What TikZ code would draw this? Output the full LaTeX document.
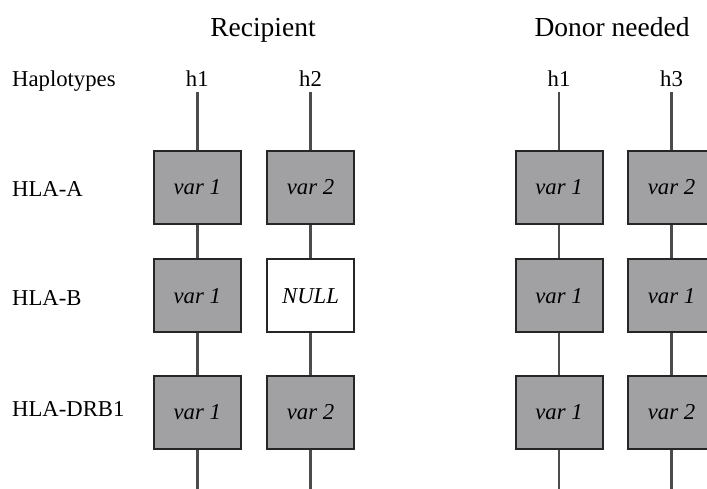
\documentclass[tikz,border=0pt]{standalone}
\usepackage{fontspec}
\setmainfont{Liberation Serif}
\definecolor{allelefill}{RGB}{161,161,164}
\begin{document}
\begin{tikzpicture}[x=1pt,y=-1pt,
  title/.style={font=\fontsize{27.5}{32}\selectfont, anchor=base, inner sep=0pt},
  lbl/.style={font=\fontsize{22.7}{27}\selectfont, anchor=base west, inner sep=0pt},
  hap/.style={font=\fontsize{22.7}{27}\selectfont, anchor=base, inner sep=0pt},
  allele/.style={draw=black!85, line width=2pt, fill=allelefill, minimum width=87pt, minimum height=73pt, inner sep=0pt, font=\fontsize{22.7}{27}\selectfont\itshape},
  nullallele/.style={allele, fill=white},
  strand/.style={draw=black!70, line width=2.6pt}]
\useasboundingbox (0,0) rectangle (707,488);
\clip (0,0) rectangle (707,488);

% group headings
\node[title] (rec) at (263,36.7) {Recipient};
\node[title] (don) at (612,36.7) {Donor needed};

% row labels
\node[lbl] (haplo) at (12,86) {Haplotypes};
\node[lbl] (la) at (12,196.7) {HLA-A};
\node[lbl] (lb) at (12,305) {HLA-B};
\node[lbl] (lc) at (12,416.7) {HLA-DRB1};

% haplotype columns: x position, name, label, three alleles
\foreach \x/\n/\h/\a/\b/\c/\bs in {
    197.3/r1/h1/var 1/var 1/var 1/allele,
    310.5/r2/h2/var 2/NULL/var 2/nullallele,
    559/d1/h1/var 1/var 1/var 1/allele,
    671.5/d2/h3/var 2/var 1/var 2/allele}{
  \node[hap] (\n h) at (\x,86) {\h};
  \coordinate (\n t) at (\x,92);
  \coordinate (\n e) at (\x,490);
  \node[allele] (\n a) at (\x,187.5) {\a};
  \node[\bs] (\n b) at (\x,295.8) {\b};
  \node[allele] (\n c) at (\x,412.5) {\c};
  \draw[strand] (\n t) -- (\n a.north);
  \draw[strand] (\n a.south) -- (\n b.north);
  \draw[strand] (\n b.south) -- (\n c.north);
  \draw[strand] (\n c.south) -- (\n e);
}
\end{tikzpicture}
\end{document}
